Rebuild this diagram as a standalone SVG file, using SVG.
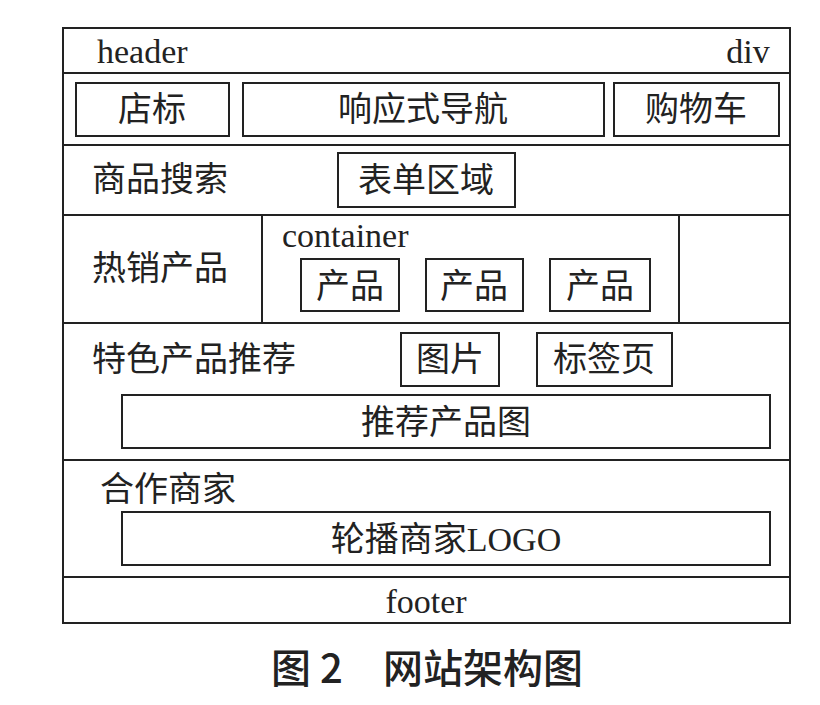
<svg xmlns="http://www.w3.org/2000/svg" width="820" height="705" viewBox="0 0 820 705">
<style>
.b{fill:none;stroke:#222;stroke-width:2}
text{font-family:"Liberation Serif","Noto Sans CJK SC",serif;font-size:34px;fill:#222}
.c{text-anchor:middle}
.cap{font-family:"Noto Sans CJK SC",sans-serif;font-size:40px;font-weight:500;text-anchor:middle}
</style>
<rect width="820" height="705" fill="#fff"/>
<g id="frame">
<rect class="b" x="63" y="28" width="727" height="595"/>
<path class="b" d="M63 73H790M63 145H790M63 215H790M63 323H790M63 460H790M63 577H790M262 215V323M679 215V323"/>
</g>
<g id="header"><text x="97" y="63">header</text><text x="748" y="63" class="c">div</text></g>
<g id="n1"><rect class="b" x="76" y="83" width="153" height="53"/><text x="152" y="121" class="c">店标</text></g>
<g id="n2"><rect class="b" x="243" y="83" width="361" height="53"/><text x="423" y="121" class="c">响应式导航</text></g>
<g id="n3"><rect class="b" x="614" y="83" width="165" height="53"/><text x="696" y="121" class="c">购物车</text></g>
<g id="search"><text x="92" y="191">商品搜索</text><rect class="b" x="338" y="153" width="177" height="54"/><text x="426" y="192" class="c">表单区域</text></g>
<g id="hot"><text x="92" y="280">热销产品</text><text x="282" y="247">container</text>
<rect class="b" x="301" y="259" width="98" height="52"/><text x="350" y="298" class="c">产品</text>
<rect class="b" x="426" y="259" width="97" height="52"/><text x="474" y="298" class="c">产品</text>
<rect class="b" x="550" y="259" width="100" height="52"/><text x="600" y="298" class="c">产品</text></g>
<g id="feat"><text x="92" y="371">特色产品推荐</text>
<rect class="b" x="401" y="333" width="98" height="53"/><text x="450" y="371" class="c">图片</text>
<rect class="b" x="537" y="333" width="135" height="53"/><text x="604" y="371" class="c">标签页</text>
<rect class="b" x="122" y="395" width="648" height="53"/><text x="446" y="434" class="c">推荐产品图</text></g>
<g id="partner"><text x="100" y="501">合作商家</text>
<rect class="b" x="122" y="512" width="648" height="53"/><text x="446" y="551" class="c">轮播商家LOGO</text></g>
<g id="footer"><text x="426" y="613" class="c">footer</text></g>
<text x="427" y="683" class="cap">图 2　网站架构图</text>
</svg>
